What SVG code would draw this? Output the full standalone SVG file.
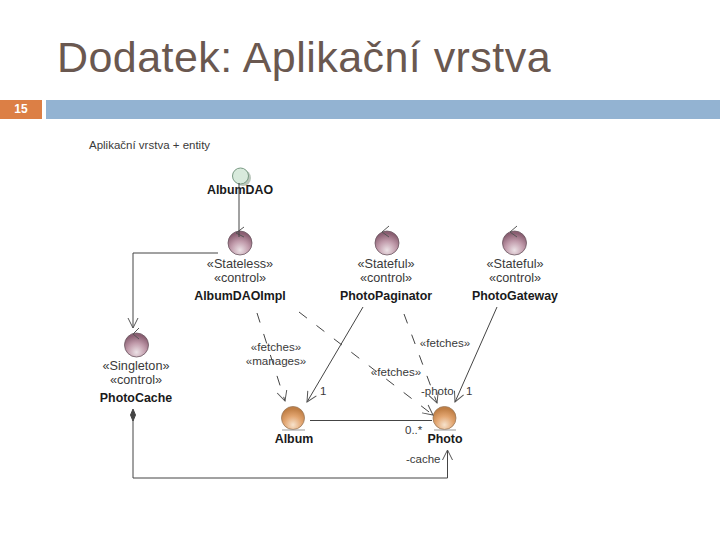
<svg xmlns="http://www.w3.org/2000/svg" width="720" height="540" viewBox="0 0 720 540">
<defs>
<radialGradient id="ctl" cx="0.5" cy="0.8" r="0.7"><stop offset="0" stop-color="#ece2e6"/><stop offset="0.55" stop-color="#c09aaa"/><stop offset="1" stop-color="#8a5f72"/></radialGradient>
<radialGradient id="ent" cx="0.5" cy="0.8" r="0.7"><stop offset="0" stop-color="#f6e2cc"/><stop offset="0.55" stop-color="#e2a570"/><stop offset="1" stop-color="#c07e44"/></radialGradient>
<marker id="open" viewBox="0 0 12 12" refX="11" refY="6" markerWidth="12" markerHeight="12" markerUnits="userSpaceOnUse" orient="auto"><path d="M1 1L11 6L1 11" fill="none" stroke="#555" stroke-width="1"/></marker>
</defs>
<style>
text{font-family:"Liberation Sans",Arial,sans-serif;fill:#222}
.l{font-size:12.7px;text-anchor:middle;fill:#3a3a3a}
.b{font-size:12.4px;font-weight:bold;text-anchor:middle;fill:#1a1a1a}
.m{font-size:11.600px;text-anchor:middle;fill:#3a3a3a}
.s{font-size:11.500px;fill:#3a3a3a}
.c{fill:url(#ctl);stroke:#6a5560;stroke-width:.8}
.e{fill:url(#ent);stroke:#9a7a5c;stroke-width:.8}
.t{fill:none;stroke:#555;stroke-width:1}
.u{stroke:#999;stroke-width:1}
.con{fill:none;stroke:#444;stroke-width:1}
.d{stroke-dasharray:10 12}
</style>
<rect width="720" height="540" fill="#fff"/>
<text x="57" y="72" style="font-size:43px;letter-spacing:.45px;fill:#6a5850">Dodatek: Aplikační vrstva</text>
<rect x="0" y="100" width="42" height="19" fill="#dc7f45"/>
<rect x="46" y="100" width="674" height="19" fill="#93b3d2"/>
<text x="21" y="113" text-anchor="middle" style="font-size:12px;font-weight:bold;fill:#fff">15</text>
<text x="89" y="149" style="font-size:11.500px;fill:#3a3a3a">Aplikační vrstva + entity</text>
<g id="AlbumDAO">
<circle cx="243" cy="178" r="8" fill="#8aa08e" opacity=".6"/>
<circle cx="240.500" cy="176" r="8" fill="#d8eadc" stroke="#7a9a84"/>
<text x="240" y="194" class="b">AlbumDAO</text>
</g>
<g id="AlbumDAOImpl">
<circle cx="240" cy="243" r="12" class="c"/>
<path d="M244 227L236 233L244 237" class="t"/>
<text x="240" y="268" class="l">«Stateless»</text>
<text x="240" y="282" class="l">«control»</text>
<text x="240" y="300" class="b">AlbumDAOImpl</text>
</g>
<g id="PhotoPaginator">
<circle cx="387" cy="243" r="12" class="c"/>
<path d="M389 226L382 232L389 237" class="t"/>
<text x="386" y="268" class="l">«Stateful»</text>
<text x="386" y="282" class="l">«control»</text>
<text x="386" y="300" class="b">PhotoPaginator</text>
</g>
<g id="PhotoGateway">
<circle cx="514.500" cy="243" r="12" class="c"/>
<path d="M517 226L510 232L517 237" class="t"/>
<text x="515" y="268" class="l">«Stateful»</text>
<text x="515" y="282" class="l">«control»</text>
<text x="515" y="300" class="b">PhotoGateway</text>
</g>
<g id="PhotoCache">
<circle cx="136.500" cy="345" r="12" class="c"/>
<path d="M139 328L133 334L139 339" class="t"/>
<text x="136" y="370" class="l">«Singleton»</text>
<text x="136" y="384" class="l">«control»</text>
<text x="136" y="402" class="b">PhotoCache</text>
</g>
<g id="Album">
<circle cx="293" cy="418" r="11.500" class="e"/>
<path d="M282 430H305" class="u"/>
<text x="294" y="443" class="b">Album</text>
</g>
<g id="Photo">
<circle cx="444.500" cy="418" r="11.500" class="e"/>
<path d="M434 430H456" class="u"/>
<text x="445" y="443" class="b">Photo</text>
</g>
<g id="connectors" class="con">
<path d="M239 183V237"/>
<path d="M218 253H133V328" marker-end="url(#open)"/>
<path d="M257 313L285 401" class="d" marker-end="url(#open)"/>
<path d="M299 312L433 415" class="d" marker-end="url(#open)"/>
<path d="M363 307L307 402" marker-end="url(#open)"/>
<path d="M404 314L437 403" class="d" marker-end="url(#open)"/>
<path d="M497 307L455 402" marker-end="url(#open)"/>
<path d="M310 420.500H432"/>
<path d="M133 420V478H447.500V450" marker-end="url(#open)"/>
<path d="M133 409L135.500 415L133 421L130.500 415Z" fill="#444"/>
</g>
<g id="labels">
<text x="276" y="351" class="m">«fetches»</text>
<text x="276" y="365" class="m">«manages»</text>
<text x="445" y="347" class="m">«fetches»</text>
<text x="396" y="376" class="m">«fetches»</text>
<text x="320" y="395" class="s">1</text>
<text x="421" y="395" class="s">-photo</text>
<text x="466" y="395" class="s">1</text>
<text x="405" y="434" class="s">0..*</text>
<text x="406" y="463" class="s">-cache</text>
</g>
</svg>
